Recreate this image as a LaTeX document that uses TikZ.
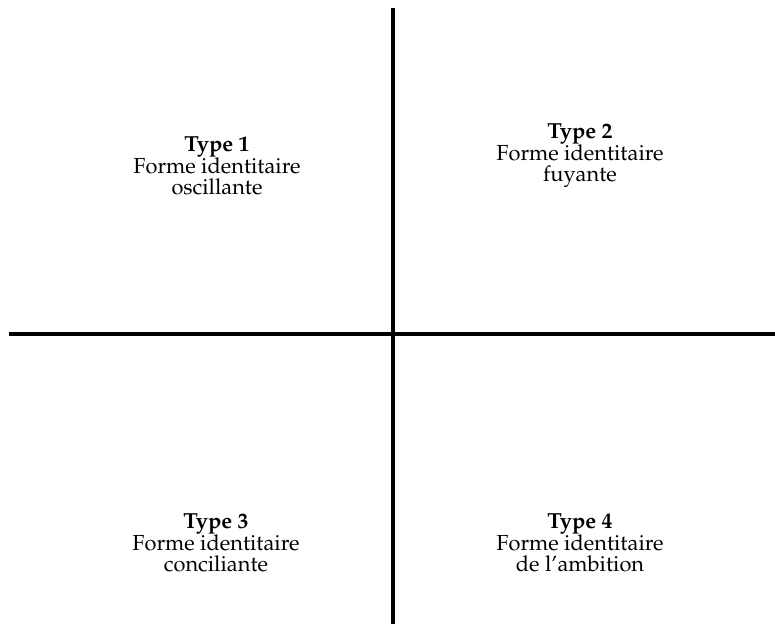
\documentclass[tikz,border=0pt]{standalone}
\usepackage[T1]{fontenc}
\usepackage{mathpazo}
\begin{document}
\begin{tikzpicture}[x=1pt,y=-1pt,
  axis/.style={line width=3.2pt},
  lbl/.style={align=center, font=\fontsize{21.8}{21}\selectfont, inner sep=0pt}]
\useasboundingbox (0,0) rectangle (775,624);
\coordinate (vt) at (393,8);
\coordinate (vb) at (393,624);
\coordinate (hl) at (9,334);
\coordinate (hr) at (775,334);
\draw[axis] (vt) -- (vb);
\draw[axis] (hl) -- (hr);
\node[lbl] (t1) at (217,166) {\textbf{Type 1}\\Forme identitaire\\oscillante};
\node[lbl] (t2) at (580,156) {\textbf{Type 2}\\Forme identitaire\\fuyante};
\node[lbl] (t3) at (216,543) {\textbf{Type 3}\\Forme identitaire\\conciliante};
\node[lbl] (t4) at (580,543) {\textbf{Type 4}\\Forme identitaire\\de l'ambition};
\end{tikzpicture}
\end{document}
